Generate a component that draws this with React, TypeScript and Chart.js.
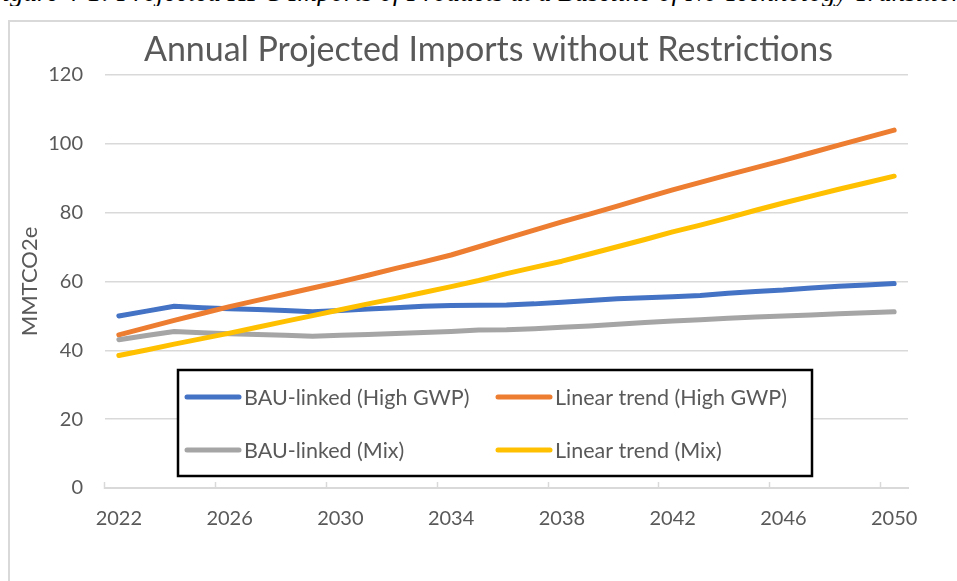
import React, { useEffect, useRef } from "react";
import { Chart, registerables } from "chart.js";

Chart.register(...registerables);

const years = [
  "2022", "2023", "2024", "2025", "2026", "2027", "2028", "2029", "2030", "2031",
  "2032", "2033", "2034", "2035", "2036", "2037", "2038", "2039", "2040", "2041",
  "2042", "2043", "2044", "2045", "2046", "2047", "2048", "2049", "2050",
];

const bauHighGwp = [
  50.0, 51.4, 52.8, 52.4, 52.1, 51.9, 51.6, 51.2, 51.6, 52.0,
  52.4, 52.8, 53.0, 53.1, 53.2, 53.5, 54.0, 54.5, 55.0, 55.3,
  55.6, 55.9, 56.6, 57.1, 57.5, 58.1, 58.6, 59.0, 59.4,
];

const linearHighGwp = [
  44.5, 46.6, 48.7, 50.7, 52.7, 54.5, 56.3, 58.1, 59.9, 61.8,
  63.8, 65.7, 67.7, 70.1, 72.5, 74.9, 77.3, 79.6, 81.9, 84.3,
  86.6, 88.8, 91.0, 93.1, 95.2, 97.4, 99.6, 101.8, 104.0,
];

const bauMix = [
  43.1, 44.3, 45.5, 45.1, 44.8, 44.6, 44.4, 44.1, 44.4, 44.6,
  44.9, 45.2, 45.5, 45.9, 46.0, 46.3, 46.7, 47.1, 47.6, 48.1,
  48.5, 48.9, 49.3, 49.7, 50.0, 50.3, 50.6, 50.9, 51.2,
];

const linearMix = [
  38.5, 40.1, 41.8, 43.4, 45.0, 46.7, 48.4, 50.1, 51.8, 53.5,
  55.1, 56.8, 58.5, 60.3, 62.3, 64.1, 65.9, 68.0, 70.1, 72.2,
  74.4, 76.4, 78.5, 80.7, 82.8, 84.8, 86.8, 88.7, 90.6,
];

const seriesLabels = [
  "BAU-linked (High GWP)",
  "Linear trend (High GWP)",
  "BAU-linked (Mix)",
  "Linear trend (Mix)",
];

const seriesColors = ["#4472C4", "#ED7D31", "#A5A5A5", "#FFC000"];

const chartTitle = "Annual Projected Imports without Restrictions";
const yAxisTitle = "MMTCO2e";
const captionText =
  "Figure 4-1: Projected HFC Imports of Products at a Baseline of No Technology Transition";

const FONT = "Lato, 'Open Sans', sans-serif";
const TEXT = "#595959";
const GRID = "#d9d9d9";

const centeredTitle = {
  id: "centeredTitle",
  afterDraw(chart: any) {
    const ctx = chart.ctx;
    ctx.save();
    ctx.fillStyle = TEXT;
    ctx.font = `34px ${FONT}`;
    ctx.textAlign = "center";
    ctx.textBaseline = "middle";
    ctx.fillText(chartTitle, chart.width / 2 + 5, 28);
    ctx.restore();
  },
};

const boxLegend = {
  id: "boxLegend",
  afterDraw(chart: any) {
    const ctx = chart.ctx;
    const x0 = 168;
    const y0 = 348;
    const w = 634;
    const h = 106;
    ctx.save();
    ctx.fillStyle = "#ffffff";
    ctx.fillRect(x0, y0, w, h);
    ctx.lineWidth = 2.5;
    ctx.strokeStyle = "#000000";
    ctx.strokeRect(x0, y0, w, h);
    const cols = [x0 + 9, x0 + 320];
    const rows = [y0 + 27, y0 + 80];
    chart.data.datasets.forEach((ds: any, i: number) => {
      const cx = cols[i % 2];
      const cy = rows[Math.floor(i / 2)];
      ctx.strokeStyle = ds.borderColor;
      ctx.lineWidth = 5;
      ctx.lineCap = "round";
      ctx.beginPath();
      ctx.moveTo(cx, cy);
      ctx.lineTo(cx + 52, cy);
      ctx.stroke();
      ctx.fillStyle = TEXT;
      ctx.font = `21.5px ${FONT}`;
      ctx.textBaseline = "middle";
      ctx.textAlign = "left";
      ctx.fillText(ds.label, cx + 57, cy + 1);
    });
    ctx.restore();
  },
};

export default function App() {
  const canvasRef = useRef<HTMLCanvasElement | null>(null);

  useEffect(() => {
    document.body.style.overflow = "hidden";
    const canvas = canvasRef.current;
    if (!canvas) return;
    const values = [bauHighGwp, linearHighGwp, bauMix, linearMix];
    const chart = new Chart(canvas, {
      type: "line",
      data: {
        labels: years,
        datasets: values.map((v, i) => ({
          label: seriesLabels[i],
          data: v,
          borderColor: seriesColors[i],
          backgroundColor: seriesColors[i],
          borderWidth: 5,
          pointRadius: 0,
          tension: 0,
          borderCapStyle: "round",
          borderJoinStyle: "round",
          order: 4 - i,
        })),
      },
      options: {
        responsive: false,
        animation: false,
        devicePixelRatio: 1,
        layout: { padding: { left: 0, right: 49, top: 53, bottom: 0 } },
        plugins: {
          legend: { display: false },
          tooltip: { enabled: false },
          title: { display: false },
        },
        scales: {
          x: {
            type: "category",
            offset: true,
            afterFit: (scale: any) => {
              scale.height = 93;
            },
            grid: {
              display: true,
              offset: true,
              drawOnChartArea: false,
              drawTicks: true,
              tickLength: -6,
              tickWidth: 1.5,
              color: (c: any) => (c.index % 4 === 0 ? GRID : "rgba(0,0,0,0)"),
              tickColor: (c: any) => (c.index % 4 === 0 ? GRID : "rgba(0,0,0,0)"),
            },
            border: { display: true, color: GRID, width: 2 },
            ticks: {
              autoSkip: false,
              maxRotation: 0,
              minRotation: 0,
              padding: 25,
              color: TEXT,
              font: { family: FONT, size: 20 },
              callback: (_v: any, i: number) => (i % 4 === 0 ? years[i] : ""),
            },
          },
          y: {
            min: 0,
            max: 120,
            afterFit: (scale: any) => {
              scale.width = 95;
            },
            grid: {
              color: GRID,
              lineWidth: 1.5,
              drawTicks: false,
            },
            border: { display: false },
            ticks: {
              stepSize: 20,
              padding: 22,
              color: TEXT,
              font: { family: FONT, size: 20 },
            },
            title: {
              display: true,
              text: yAxisTitle,
              color: TEXT,
              font: { family: FONT, size: 22 },
              padding: { top: 7, bottom: 0 },
            },
          },
        },
      },
      plugins: [centeredTitle, boxLegend],
    } as any);
    return () => chart.destroy();
  }, []);

  return (
    <div>
      <div
        style={{
          position: "absolute",
          left: -14,
          top: -21,
          width: 1000,
          whiteSpace: "nowrap",
          overflow: "hidden",
          fontFamily: "'Liberation Serif', 'Times New Roman', serif",
          fontStyle: "italic",
          fontSize: 27,
          lineHeight: "27px",
          color: "#000",
        }}
      >
        {captionText}
      </div>
      <div
        style={{
          position: "absolute",
          left: 8,
          top: 20,
          width: 947,
          height: 559,
          borderLeft: `2px solid ${GRID}`,
          borderTop: `2px solid ${GRID}`,
          background: "#fff",
        }}
      >
        <canvas ref={canvasRef} width={947} height={559} style={{ display: "block" }} />
      </div>
    </div>
  );
}
